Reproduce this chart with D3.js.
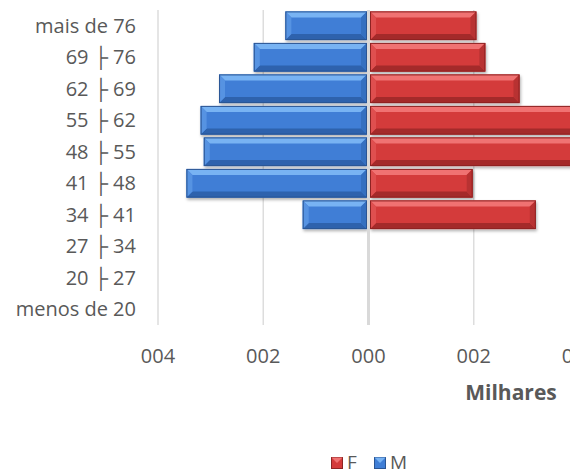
<!DOCTYPE html>
<meta charset="utf-8">
<style>
body { margin: 0; background: #fff; font-family: "Open Sans", sans-serif; }
svg { display: block; }
.cat text { fill: #595959; font-size: 20px; }
.xlab text { fill: #595959; font-size: 20px; }
</style>
<body>
<script src="https://cdn.jsdelivr.net/npm/d3@7"></script>
<script>

// faixas etárias (top to bottom)
const categories = ["mais de 76", "69 \u251C 76", "62 \u251C 69", "55 \u251C 62", "48 \u251C 55",
                    "41 \u251C 48", "34 \u251C 41", "27 \u251C 34", "20 \u251C 27", "menos de 20"];
const valuesM = [1.58, 2.18, 2.84, 3.19, 3.13, 3.46, 1.25, 0, 0, 0];
const valuesF = [2.05, 2.22, 2.87, 4.3, 4.6, 1.98, 3.18, 0, 0, 0];
const tickValues = [-4, -2, 0, 2, 4];
const tickLabels = ["004", "002", "000", "002", "004"];

const width = 570, height = 474;
const svg = d3.select("body").append("svg").attr("width", width).attr("height", height);

const x = d3.scaleLinear().domain([-4, 4]).range([158, 579]);
const y = d3.scaleBand().domain(categories).range([10, 325]).paddingInner(0.09).paddingOuter(0.045);

const defs = svg.append("defs");
const f = defs.append("filter").attr("id", "shadow").attr("x", "-10%").attr("y", "-30%").attr("width", "120%").attr("height", "170%");
f.append("feDropShadow").attr("dx", 1).attr("dy", 2).attr("stdDeviation", 1.5).attr("flood-color", "#000").attr("flood-opacity", 0.3);

// grid
svg.append("g").selectAll("line")
  .data(tickValues.filter(d => d !== 0))
  .join("line")
    .attr("x1", d => x(d)).attr("x2", d => x(d))
    .attr("y1", 10).attr("y2", 325)
    .attr("stroke", "#dddddd").attr("stroke-width", 1.5);

const palettes = {
  M: {mid: "#3f7ed6", top: "#78b3f3", bottom: "#2d62ad", lend: "#5793e2", rend: "#3570c0", edge: "#2a5594"},
  F: {mid: "#d43a3a", top: "#f07272", bottom: "#a42a2a", lend: "#df5050", rend: "#b83232", edge: "#8e2424"}
};

function bevelBar(g, x0, x1, y0, h, p) {
  const b = Math.min(6, (x1 - x0) / 2, h / 2);
  const grp = g.append("g").attr("filter", "url(#shadow)");
  grp.append("rect").attr("x", x0).attr("y", y0).attr("width", x1 - x0).attr("height", h).attr("fill", p.mid);
  const pts = arr => arr.map(q => q.join(",")).join(" ");
  grp.append("polygon").attr("points", pts([[x0, y0], [x1, y0], [x1 - b, y0 + b], [x0 + b, y0 + b]])).attr("fill", p.top);
  grp.append("polygon").attr("points", pts([[x0, y0 + h], [x1, y0 + h], [x1 - b, y0 + h - b], [x0 + b, y0 + h - b]])).attr("fill", p.bottom);
  grp.append("polygon").attr("points", pts([[x0, y0], [x0 + b, y0 + b], [x0 + b, y0 + h - b], [x0, y0 + h]])).attr("fill", p.lend);
  grp.append("polygon").attr("points", pts([[x1, y0], [x1 - b, y0 + b], [x1 - b, y0 + h - b], [x1, y0 + h]])).attr("fill", p.rend);
  grp.append("rect").attr("x", x0 + 0.5).attr("y", y0 + 0.5).attr("width", x1 - x0 - 1).attr("height", h - 1)
    .attr("fill", "none").attr("stroke", p.edge).attr("stroke-width", 1);
}

const bars = svg.append("g");
categories.forEach((c, i) => {
  if (valuesM[i] > 0) bevelBar(bars, x(-valuesM[i]), x(0) - 1.5, y(c), y.bandwidth(), palettes.M);
  if (valuesF[i] > 0) bevelBar(bars, x(0) + 1.5, x(valuesF[i]), y(c), y.bandwidth(), palettes.F);
});

// zero axis
svg.append("line")
  .attr("x1", x(0)).attr("x2", x(0)).attr("y1", 10).attr("y2", 325)
  .attr("stroke", "#d9d9d9").attr("stroke-width", 3);

// category labels
svg.append("g").attr("class", "cat").selectAll("text")
  .data(categories)
  .join("text")
    .attr("x", 136)
    .attr("y", d => y(d) + y.bandwidth() / 2)
    .attr("dy", "0.35em")
    .attr("text-anchor", "end")
    .text(d => d);

// x axis labels
svg.append("g").attr("class", "xlab").selectAll("text")
  .data(tickValues)
  .join("text")
    .attr("x", d => x(d))
    .attr("y", 363)
    .attr("text-anchor", "middle")
    .text((d, i) => tickLabels[i]);

svg.append("text")
  .attr("x", 511).attr("y", 400)
  .attr("text-anchor", "middle")
  .attr("font-size", 21).attr("font-weight", "bold").attr("fill", "#595959")
  .text("Milhares");

// legend
const legend = svg.append("g").attr("transform", "translate(331,457)");
[["F", palettes.F, 0], ["M", palettes.M, 43]].forEach(([name, p, dx]) => {
  const g = legend.append("g").attr("transform", `translate(${dx},0)`);
  g.append("rect").attr("x", 0.5).attr("y", 0.5).attr("width", 11).attr("height", 11).attr("fill", p.mid).attr("stroke", p.edge);
  g.append("polygon").attr("points", "0.5,0.5 11.5,0.5 6,6").attr("fill", p.top);
  g.append("text").attr("x", 16).attr("y", 12).attr("font-size", 19).attr("fill", "#595959").text(name);
});

</script>
